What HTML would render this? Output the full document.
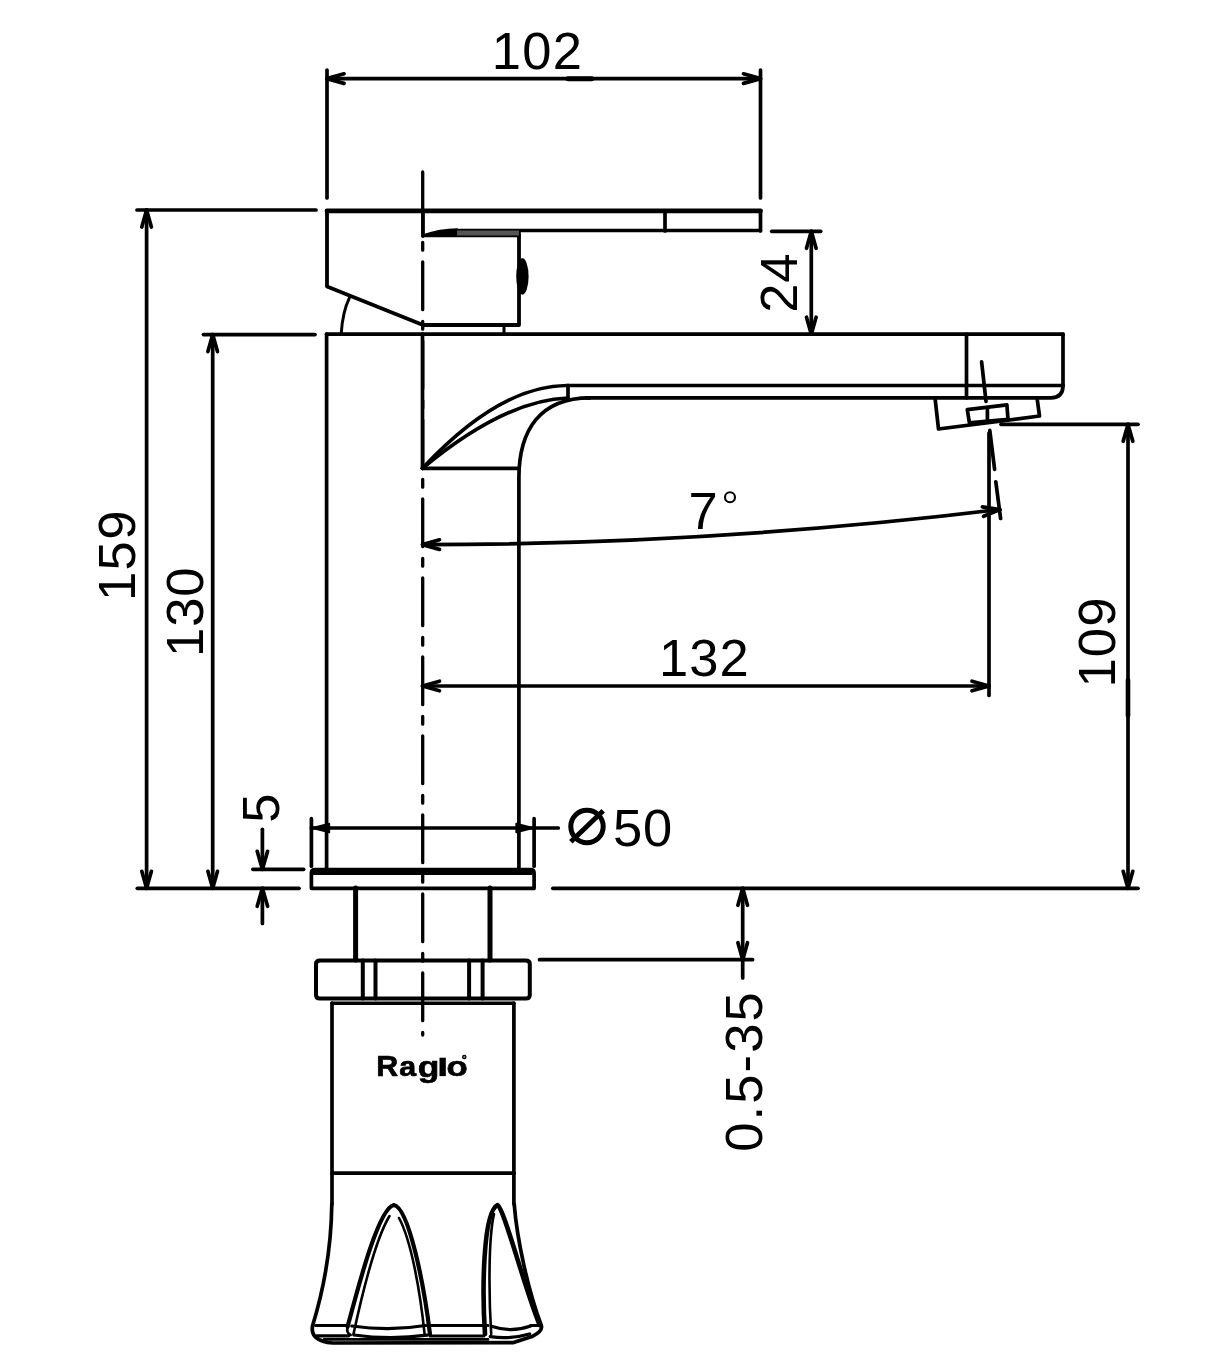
<!DOCTYPE html>
<html><head><meta charset="utf-8"><style>
html,body{margin:0;padding:0;background:#fff;}
svg{display:block;will-change:transform;}
text{font-family:"Liberation Sans", sans-serif;fill:#000;stroke:none;}
</style></head><body>
<svg width="1222" height="1370" viewBox="0 0 1222 1370" stroke="#000" stroke-linecap="round" stroke-linejoin="round" fill="none">
<rect x="0" y="0" width="1222" height="1370" fill="#fff" stroke="none"/>
<line x1="327" y1="70" x2="327" y2="198" stroke-width="3.7" />
<line x1="760.5" y1="70" x2="760.5" y2="198" stroke-width="3.7" />
<line x1="327" y1="78.6" x2="760.5" y2="78.6" stroke-width="3.7" />
<path d="M344.0,73.8 L327.0,78.6 L344.0,83.4" stroke-width="3.7" fill="none" />
<path d="M337.2,76.4 L327.0,78.6 L337.2,80.8 Z" stroke-width="1" fill="#000" />
<path d="M743.5,83.4 L760.5,78.6 L743.5,73.8" stroke-width="3.7" fill="none" />
<path d="M750.3,80.8 L760.5,78.6 L750.3,76.4 Z" stroke-width="1" fill="#000" />
<text x="491.8" y="69.3" font-size="52.5" text-anchor="start" font-weight="normal" letter-spacing="1.3" >102</text>
<line x1="327" y1="210.9" x2="760.5" y2="210.9" stroke-width="4.8" />
<line x1="760.5" y1="210.9" x2="760.5" y2="231" stroke-width="3.7" />
<line x1="457" y1="230.5" x2="760.5" y2="230.5" stroke-width="3.6" />
<line x1="665" y1="210.9" x2="665" y2="231" stroke-width="3.7" />
<path d="M327,211 L327,286.5 L423,325 L519,325 L519,233" stroke-width="3.8" fill="none" />
<line x1="423" y1="211" x2="423" y2="236" stroke-width="3.6" />
<path d="M423,235.6 L519,235.6" stroke-width="3.4" fill="none" />
<path d="M423,235 Q440,229 457,229 L457,234 Z" stroke-width="1.5" fill="#000" />
<rect x="457" y="230.5" width="62" height="5" fill="#555" stroke="none"/>
<ellipse cx="522.4" cy="276.5" rx="6.2" ry="18.2" fill="#000" stroke="none"/>
<path d="M341.2,334 Q342.5,312 349.6,297.4" stroke-width="3" fill="none" />
<line x1="504" y1="325" x2="504" y2="334" stroke-width="3" />
<line x1="326.6" y1="334.2" x2="1063" y2="334.2" stroke-width="3.7" />
<line x1="326.6" y1="334" x2="326.6" y2="869" stroke-width="3.7" />
<line x1="1063" y1="334.2" x2="1063" y2="385.5" stroke-width="3.7" />
<path d="M568,385.5 L1063,385.5" stroke-width="3.7" fill="none" />
<path d="M586,397.8 L1051,397.8 Q1063,397.8 1063,385.5" stroke-width="3.7" fill="none" />
<line x1="966.5" y1="334.2" x2="966.5" y2="397.8" stroke-width="3.7" />
<line x1="422.5" y1="334" x2="422.5" y2="468.3" stroke-width="3.7" />
<line x1="422.5" y1="468.3" x2="518.9" y2="468.3" stroke-width="3.7" />
<path d="M518.9,869 L518.9,478 C518.9,430 540,397.8 590,397.8" stroke-width="3.7" fill="none" />
<path d="M422.5,468.3 Q500,385 568,385.5" stroke-width="3.7" fill="none" />
<path d="M422.5,468.3 Q505,400 568,398" stroke-width="3.7" fill="none" />
<line x1="568" y1="385.5" x2="568" y2="398" stroke-width="3.7" />
<path d="M935,397.8 L938.5,429 L1039.5,416 L1037,397.8" stroke-width="3.7" fill="none" />
<path d="M967.3,409.6 L1006.9,404.8 L1008,419.3 L969.4,422.8 Z" stroke-width="3.7" fill="none" />
<line x1="987.4" y1="408" x2="987.4" y2="422" stroke-width="3.7" />
<line x1="981.6" y1="361.8" x2="986" y2="401.3" stroke-width="3.7" />
<line x1="989.8" y1="430.4" x2="994.6" y2="469.3" stroke-width="3.7" />
<line x1="995.8" y1="481.8" x2="1000.6" y2="518.5" stroke-width="3.7" />
<line x1="568" y1="78.7" x2="591.7" y2="78.7" stroke-width="5" />
<line x1="1128" y1="680" x2="1128" y2="715.7" stroke-width="4.6" />
<line x1="771.7" y1="231.3" x2="820.7" y2="231.3" stroke-width="3.7" />
<line x1="811.3" y1="231.3" x2="811.3" y2="334.2" stroke-width="3.7" />
<path d="M816.1,248.3 L811.3,231.3 L806.5,248.3" stroke-width="3.7" fill="none" />
<path d="M813.5,241.5 L811.3,231.3 L809.1,241.5 Z" stroke-width="1" fill="#000" />
<path d="M806.5,317.2 L811.3,334.2 L816.1,317.2" stroke-width="3.7" fill="none" />
<path d="M809.1,324.0 L811.3,334.2 L813.5,324.0 Z" stroke-width="1" fill="#000" />
<text x="797.4" y="312.7" font-size="52.5" text-anchor="start" font-weight="normal" letter-spacing="0.8" transform="rotate(-90 797.4 312.7)" >24</text>
<path d="M422.5,544.6 Q710.1,544.6 999.9,509.5" stroke-width="3.7" fill="none" />
<path d="M439.5,539.8 L422.5,544.6 L439.5,549.4" stroke-width="3.7" fill="none" />
<path d="M432.7,542.4 L422.5,544.6 L432.7,546.8 Z" stroke-width="1" fill="#000" />
<path d="M983.6,516.3 L999.9,509.5 L982.4,506.8" stroke-width="3.7" fill="none" />
<path d="M990.0,512.9 L999.9,509.5 L989.5,508.6 Z" stroke-width="1" fill="#000" />
<text x="688.5" y="528.7" font-size="52.5" text-anchor="start" font-weight="normal" >7</text>
<circle cx="730" cy="497.2" r="5" stroke-width="2.1" fill="none"/>
<line x1="989" y1="433" x2="989" y2="695.5" stroke-width="3.7" />
<line x1="422.5" y1="686" x2="989" y2="686" stroke-width="3.7" />
<path d="M439.5,681.2 L422.5,686.0 L439.5,690.8" stroke-width="3.7" fill="none" />
<path d="M432.7,683.8 L422.5,686.0 L432.7,688.2 Z" stroke-width="1" fill="#000" />
<path d="M972.0,690.8 L989.0,686.0 L972.0,681.2" stroke-width="3.7" fill="none" />
<path d="M978.8,688.2 L989.0,686.0 L978.8,683.8 Z" stroke-width="1" fill="#000" />
<text x="659.0" y="675.9" font-size="52.5" text-anchor="start" font-weight="normal" letter-spacing="1.1" >132</text>
<line x1="1001" y1="424.3" x2="1138" y2="424.3" stroke-width="3.7" />
<line x1="552.8" y1="888.3" x2="1138" y2="888.3" stroke-width="3.7" />
<line x1="1128" y1="424.3" x2="1128" y2="888.3" stroke-width="3.7" />
<path d="M1132.8,441.3 L1128.0,424.3 L1123.2,441.3" stroke-width="3.7" fill="none" />
<path d="M1130.2,434.5 L1128.0,424.3 L1125.8,434.5 Z" stroke-width="1" fill="#000" />
<path d="M1123.2,871.3 L1128.0,888.3 L1132.8,871.3" stroke-width="3.7" fill="none" />
<path d="M1125.8,878.1 L1128.0,888.3 L1130.2,878.1 Z" stroke-width="1" fill="#000" />
<text x="1114.8" y="687.5" font-size="52.5" text-anchor="start" font-weight="normal" letter-spacing="1.15" transform="rotate(-90 1114.8 687.5)" >109</text>
<line x1="137" y1="210" x2="316" y2="210" stroke-width="3.7" />
<line x1="203.5" y1="334.6" x2="315" y2="334.6" stroke-width="3.7" />
<line x1="137.3" y1="888.3" x2="299" y2="888.3" stroke-width="3.7" />
<line x1="146.6" y1="210" x2="146.6" y2="888.3" stroke-width="3.7" />
<path d="M151.4,227.0 L146.6,210.0 L141.8,227.0" stroke-width="3.7" fill="none" />
<path d="M148.8,220.2 L146.6,210.0 L144.4,220.2 Z" stroke-width="1" fill="#000" />
<path d="M141.8,871.3 L146.6,888.3 L151.4,871.3" stroke-width="3.7" fill="none" />
<path d="M144.4,878.1 L146.6,888.3 L148.8,878.1 Z" stroke-width="1" fill="#000" />
<line x1="212.7" y1="334.6" x2="212.7" y2="888.3" stroke-width="3.7" />
<path d="M217.5,351.6 L212.7,334.6 L207.9,351.6" stroke-width="3.7" fill="none" />
<path d="M214.9,344.8 L212.7,334.6 L210.5,344.8 Z" stroke-width="1" fill="#000" />
<path d="M207.9,871.3 L212.7,888.3 L217.5,871.3" stroke-width="3.7" fill="none" />
<path d="M210.5,878.1 L212.7,888.3 L214.9,878.1 Z" stroke-width="1" fill="#000" />
<text x="134.8" y="601.0" font-size="52.5" text-anchor="start" font-weight="normal" letter-spacing="1.4" transform="rotate(-90 134.8 601.0)" >159</text>
<text x="203.3" y="657.0" font-size="52.5" text-anchor="start" font-weight="normal" letter-spacing="0.95" transform="rotate(-90 203.3 657.0)" >130</text>
<line x1="252.9" y1="869.3" x2="303.6" y2="869.3" stroke-width="3.7" />
<line x1="262.4" y1="829.3" x2="262.4" y2="869.3" stroke-width="3.7" />
<path d="M257.2,851.3 L262.4,869.3 L267.6,851.3" stroke-width="3.7" fill="none" />
<path d="M260.1,858.5 L262.4,869.3 L264.7,858.5 Z" stroke-width="1" fill="#000" />
<line x1="262.4" y1="888.3" x2="262.4" y2="923.5" stroke-width="3.7" />
<path d="M267.6,906.3 L262.4,888.3 L257.2,906.3" stroke-width="3.7" fill="none" />
<path d="M264.7,899.1 L262.4,888.3 L260.1,899.1 Z" stroke-width="1" fill="#000" />
<text x="278.7" y="822.7" font-size="52.5" text-anchor="start" font-weight="normal" transform="rotate(-90 278.7 822.7)" >5</text>
<line x1="311.4" y1="818.7" x2="311.4" y2="866.2" stroke-width="3.7" />
<line x1="534.1" y1="818.7" x2="534.1" y2="866.2" stroke-width="3.7" />
<line x1="311.4" y1="828" x2="558.3" y2="828" stroke-width="3.7" />
<path d="M329.4,823.5 L311.4,828.0 L329.4,832.5 Z" stroke-width="1.5" fill="#000" />
<path d="M516.1,832.5 L534.1,828.0 L516.1,823.5 Z" stroke-width="1.5" fill="#000" />
<circle cx="587" cy="826.5" r="16.2" stroke-width="5" fill="none"/>
<line x1="570.8" y1="841.7" x2="603.2" y2="810.8" stroke-width="5" stroke-linecap="butt"/>
<text x="612.9" y="846.2" font-size="52.5" text-anchor="start" font-weight="normal" letter-spacing="0.8" >50</text>
<path d="M311.4,888.3 L311.4,873 Q311.4,869.5 315,869.5 L530.5,869.5 Q534.1,869.5 534.1,873 L534.1,888.3 Z" stroke-width="3.7" fill="none" />
<rect x="313" y="869.5" width="219.5" height="5.5" fill="#000" stroke="none"/>
<line x1="355.6" y1="888" x2="355.6" y2="960" stroke-width="5" />
<line x1="490" y1="888" x2="490" y2="960" stroke-width="5" />
<path d="M316,964 Q316,960.5 320,960.5 L525.8,960.5 Q529.8,960.5 529.8,964 L529.8,995 Q529.8,998.6 525.8,998.6 L320,998.6 Q316,998.6 316,995 Z" stroke-width="4" fill="none" />
<line x1="362.8" y1="960.5" x2="362.8" y2="998.6" stroke-width="4" />
<line x1="375.5" y1="960.5" x2="375.5" y2="998.6" stroke-width="4" />
<line x1="469.1" y1="960.5" x2="469.1" y2="998.6" stroke-width="4" />
<line x1="482.6" y1="960.5" x2="482.6" y2="998.6" stroke-width="4" />
<line x1="332" y1="1003.3" x2="513.8" y2="1003.3" stroke-width="3.4" />
<line x1="332" y1="1003" x2="332" y2="1204" stroke-width="3.7" />
<line x1="513.9" y1="1003" x2="513.9" y2="1204" stroke-width="3.7" />
<line x1="332" y1="1173.2" x2="513.9" y2="1173.2" stroke-width="3.7" />
<path d="M331.8,1204 C331.3,1250 322,1295 312.5,1326 Q310,1341 332.7,1343 L513.6,1342.6 L532.8,1336.2 Q543,1331 541.3,1325.5 C528,1290 517,1240 514.2,1204" stroke-width="3.7" fill="none" />
<path d="M315.6,1325.5 L347.6,1325.5 M427,1325.5 L488,1325.5 M530.6,1325.5 L539.5,1325.5" stroke-width="3.2" fill="none" />
<path d="M351.8,1326 Q390,1331.5 425.2,1325.5 M492.3,1326.6 Q511,1333 530.6,1326" stroke-width="3.2" fill="none" />
<path d="M316.7,1335.8 L348.6,1335.8 M430,1336 L483.8,1336" stroke-width="3.2" fill="none" />
<path d="M353.9,1335 Q390,1340 427.3,1335.1 M490.2,1336.7 Q511,1339.5 529.6,1334" stroke-width="3.2" fill="none" />
<path d="M324,1339.4 L488,1339.4" stroke-width="2.6" fill="none" />
<path d="M347.6,1326.6 C360,1280 379,1208 393.9,1205 C409,1208 424,1285 430,1334.2" stroke-width="4.2" fill="none" />
<path d="M389.5,1216 C375,1240 363,1290 353.5,1334" stroke-width="2.6" fill="none" />
<path d="M399,1218 C411,1240 420,1290 424.6,1334.2" stroke-width="2.6" fill="none" />
<path d="M347.6,1326.6 Q346,1333 350.7,1335" stroke-width="2.6" fill="none" />
<path d="M485,1334 C482,1290 483,1212 497.5,1205 C504,1208 525,1290 539.7,1325" stroke-width="4.6" fill="none" />
<path d="M494,1214 C488,1240 489,1300 491.2,1334" stroke-width="2.6" fill="none" />
<line x1="422.7" y1="172" x2="422.7" y2="236" stroke-width="3.3" />
<line x1="422.7" y1="236" x2="422.7" y2="1035" stroke-width="3.3" stroke-dasharray="47.8 11.7 7.8 11.7" stroke-dashoffset="53.099999999999994"/>
<line x1="539.5" y1="959.7" x2="752.6" y2="959.7" stroke-width="3.7" />
<line x1="742.7" y1="888.3" x2="742.7" y2="978" stroke-width="3.7" />
<path d="M747.5,905.3 L742.7,888.3 L737.9,905.3" stroke-width="3.7" fill="none" />
<path d="M744.9,898.5 L742.7,888.3 L740.5,898.5 Z" stroke-width="1" fill="#000" />
<path d="M737.9,942.7 L742.7,959.7 L747.5,942.7" stroke-width="3.7" fill="none" />
<path d="M740.5,949.5 L742.7,959.7 L744.9,949.5 Z" stroke-width="1" fill="#000" />
<text x="762.2" y="1151.7" font-size="52.5" text-anchor="start" font-weight="normal" letter-spacing="2.1" transform="rotate(-90 762.2 1151.7)" >0.5-35</text>
<text transform="translate(376.22,1075.85) scale(1.048,1.012)" font-size="29.0" font-weight="bold" style="stroke:#000;stroke-width:0.68px;stroke-linejoin:round">R</text>
<text transform="translate(399.26,1075.98) scale(1.048,0.938)" font-size="29.0" font-weight="bold" style="stroke:#000;stroke-width:0.71px;stroke-linejoin:round">a</text>
<text transform="translate(417.70,1077.35) scale(1.220,1.025)" font-size="29.0" font-weight="bold" style="stroke:#000;stroke-width:0.62px;stroke-linejoin:round">g</text>
<text transform="translate(446.59,1075.98) scale(1.198,0.938)" font-size="29.0" font-weight="bold" style="stroke:#000;stroke-width:0.66px;stroke-linejoin:round">o</text>
<rect x="439.5" y="1057.7" width="6.3" height="18.4" fill="#000" stroke="none"/>
<circle cx="464.3" cy="1057" r="1.7" fill="#888" stroke="#000" stroke-width="1.2"/>
</svg></body></html>
